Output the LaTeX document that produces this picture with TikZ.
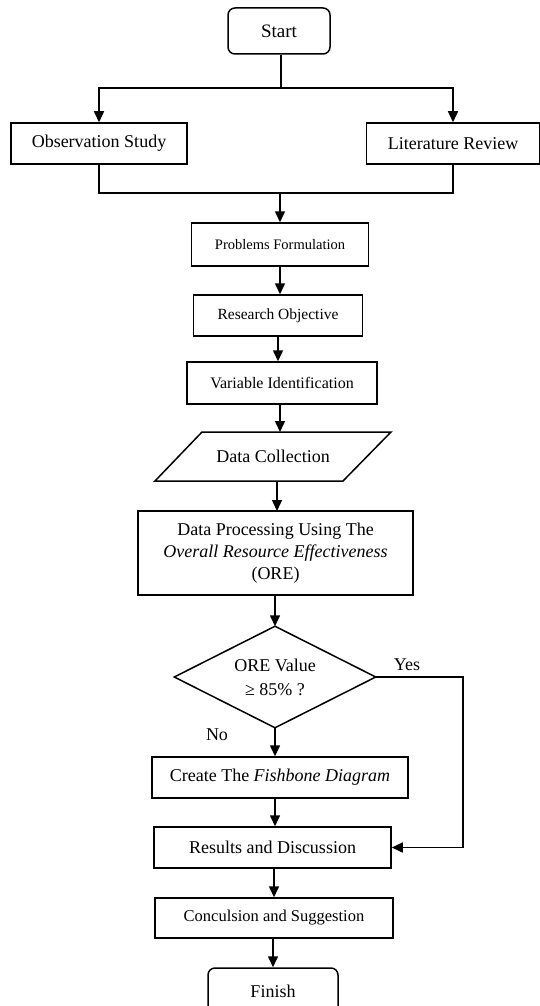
\documentclass[tikz,border=0pt]{standalone}
\usepackage{fontspec}
\setmainfont{Liberation Serif}
\usetikzlibrary{arrows.meta,shapes.geometric,calc}
\begin{document}
\begin{tikzpicture}[x=1pt,y=-1pt,
  line width=1.5pt,
  box/.style={draw,rectangle,inner sep=0pt,align=center,font=\fontsize{18}{20}\selectfont},
  rbox/.style={box,rounded corners=7pt},
  arr/.style={-{Triangle[width=10pt,length=11pt]}},
  lbl/.style={inner sep=0pt,font=\fontsize{18}{20}\selectfont}]
\useasboundingbox (0,0) rectangle (540,1006);
\begin{scope}
\clip (0,0) rectangle (540,1006);
\node[rbox,minimum width=102pt,minimum height=46pt,font=\fontsize{19}{22}\selectfont] (start) at (279,31) {Start};
\node[box,minimum width=176pt,minimum height=41pt] (obs) at (99,143.5) {Observation Study};
\node[box,minimum width=173pt,minimum height=41pt] (lit) at (453,143.5) {Literature Review};
\node[box,minimum width=177pt,minimum height=43pt,font=\fontsize{14.5}{17}\selectfont] (pf) at (280,244.5) {Problems Formulation};
\node[box,minimum width=169pt,minimum height=41pt,font=\fontsize{15.5}{18}\selectfont] (ro) at (278,315.5) {Research Objective};
\node[box,minimum width=190pt,minimum height=42pt,font=\fontsize{16}{18}\selectfont] (vi) at (282,383) {Variable Identification};
\node[box,draw=none,minimum width=189pt,minimum height=49pt] (dc) at (273,456.5) {Data Collection};
\draw (202,432) -- (391,432) -- (343,481) -- (155,481) -- cycle;
\node[box,minimum width=275pt,minimum height=84pt,font=\fontsize{18}{22}\selectfont] (dp) at (275.5,553) {Data Processing Using The\\ \textit{Overall Resource Effectiveness}\\ (ORE)};
\node[box,draw=none,minimum width=200pt,minimum height=100pt,font=\fontsize{18}{24}\selectfont] (dec) at (275,677) {ORE Value\\ ≥ 85\% ?};
\draw (dec.north) -- (dec.east) -- (dec.south) -- (dec.west) -- cycle;
\node[box,minimum width=256pt,minimum height=41pt] (fb) at (280,777.5) {Create The \textit{Fishbone Diagram}};
\node[box,minimum width=237pt,minimum height=41pt] (rd) at (272.5,847.5) {Results and Discussion};
\node[box,minimum width=238pt,minimum height=40pt,font=\fontsize{16.5}{19}\selectfont] (cs) at (274,918) {Conculsion and Suggestion};
\node[rbox,minimum width=130pt,minimum height=46pt] (fin) at (273,991) {Finish};
\node[lbl] (yes) at (407,665) {Yes};
\node[lbl] (no) at (217,735) {No};
\coordinate (j1) at (281,88);
\coordinate (j2) at (280,193);
\coordinate (yc) at (463,677);
\draw (start.south -| j1) -- (j1);
\draw[arr] (j1) -| (obs.north);
\draw[arr] (j1) -| (lit.north);
\draw (obs.south) |- (j2);
\draw (lit.south) |- (j2);
\draw[arr] (j2) -- (j2 |- pf.north);
\draw[arr] (pf.south) -- (pf.south |- ro.north);
\draw[arr] (ro.south) -- (ro.south |- vi.north);
\draw[arr] (280,404) -- (280,432);
\draw[arr] (277,481) -- (277,511);
\draw[arr] (dp.south -| dec.north) -- (dec.north);
\draw[arr] (dec.south) -- (dec.south |- fb.north);
\draw[arr] (dec.south |- fb.south) -- (dec.south |- rd.north);
\draw[arr] (dec.east) -- (yc) |- (rd.east);
\draw[arr] (cs.north |- rd.south) -- (cs.north);
\draw[arr] (fin.north |- cs.south) -- (fin.north);
\end{scope}
\end{tikzpicture}
\end{document}
